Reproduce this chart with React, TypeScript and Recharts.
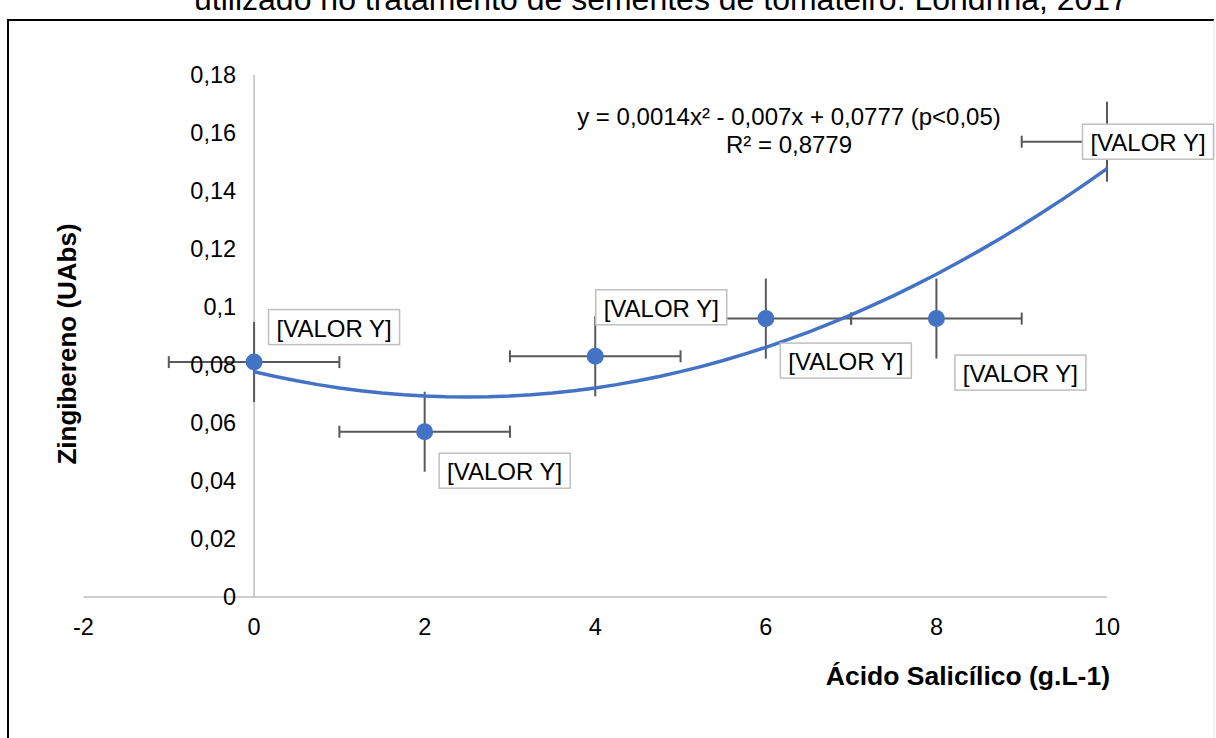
import {
  ComposedChart,
  ErrorBar,
  ReferenceDot,
  ReferenceLine,
  Scatter,
  XAxis,
  YAxis,
} from "recharts";

// doses de ácido salicílico (g.L-1) e médias de zingibereno (UAbs)
const doses = [0, 2, 4, 6, 8, 10];
const zingibereno = [0.081, 0.057, 0.083, 0.096, 0.096, 0.157];
const erroY = [0.0138, 0.0138, 0.0138, 0.0138, 0.0138, 0.0138];
const erroX = [1, 1, 1, 1, 1, 1];
const rotulos = ["[VALOR Y]", "[VALOR Y]", "[VALOR Y]", "[VALOR Y]", "[VALOR Y]", "[VALOR Y]"];

const xTicks = [-2, 0, 2, 4, 6, 8, 10];
const yTicks = [0, 0.02, 0.04, 0.06, 0.08, 0.1, 0.12, 0.14, 0.16, 0.18];

// linha de tendência polinomial: y = c2·x² + c1·x + c0
const coef = { c0: 0.0777, c1: -0.007, c2: 0.0014 };
const passosCurva = [
  0, 0.25, 0.5, 0.75, 1, 1.25, 1.5, 1.75, 2, 2.25, 2.5, 2.75, 3, 3.25, 3.5, 3.75, 4,
  4.25, 4.5, 4.75, 5, 5.25, 5.5, 5.75, 6, 6.25, 6.5, 6.75, 7, 7.25, 7.5, 7.75, 8,
  8.25, 8.5, 8.75, 9, 9.25, 9.5, 9.75, 10,
];

// deslocamento (px) de cada caixa de rótulo em relação ao ponto
const offsetsRotulo: [number, number][] = [
  [80, -35],
  [80, 39],
  [66, -49],
  [80, 42],
  [84, 54],
  [41, 0],
];

const FONT = "'Liberation Sans', Arial, sans-serif";
const AZUL = "#4472C4";
const CINZA_EIXO = "#bfbfbf";
const CINZA_ERRO = "#595959";

const pontos = doses.map((d, i) => ({
  x: d,
  y: zingibereno[i],
  ex: erroX[i],
  ey: erroY[i],
}));

const curva = passosCurva.map((x) => ({
  x,
  y: coef.c2 * x * x + coef.c1 * x + coef.c0,
}));

const fmt = (v: number) => String(v).replace(".", ",");

const Ponto = (p: any) => <circle cx={p.cx} cy={p.cy} r={8.5} fill={AZUL} />;

const caixaRotulo = (i: number) => (p: any) => {
  const [dx, dy] = offsetsRotulo[i];
  const cx = p.cx + dx;
  const cy = p.cy + dy;
  const w = 131;
  const h = 35;
  return (
    <g>
      <rect
        x={cx - w / 2}
        y={cy - h / 2}
        width={w}
        height={h}
        fill="#fff"
        stroke={CINZA_EIXO}
        strokeWidth={1.5}
      />
      <text
        x={cx}
        y={cy + 1}
        textAnchor="middle"
        dominantBaseline="central"
        fontSize={24}
        fontFamily={FONT}
        fill="#000"
      >
        {rotulos[i]}
      </text>
    </g>
  );
};

export default function App() {
  return (
    <div
      style={{
        position: "fixed",
        left: 0,
        top: 0,
        width: 1216,
        height: 738,
        background: "#fff",
        fontFamily: FONT,
      }}
    >
      <svg
        width={1216}
        height={738}
        style={{ position: "absolute", left: 0, top: 0 }}
      >
        <text
          x={661}
          y={10}
          textAnchor="middle"
          fontSize={32}
          fontFamily={FONT}
          fill="#000"
        >
          utilizado no tratamento de sementes de tomateiro. Londrina, 2017
        </text>
        <line x1={7} y1={20} x2={1214} y2={20} stroke="#000" strokeWidth={2} />
        <line x1={8} y1={19} x2={8} y2={738} stroke="#000" strokeWidth={2} />
        <line x1={1214} y1={20} x2={1214} y2={738} stroke="#e6e6e6" strokeWidth={1} />
      </svg>
      <div style={{ position: "absolute", left: 0, top: 0 }}>
        <ComposedChart
          width={1216}
          height={738}
          margin={{ top: 75, right: 109, bottom: 111, left: 83.5 }}
        >
          <XAxis
            type="number"
            dataKey="x"
            domain={[-2, 10]}
            ticks={xTicks}
            interval={0}
            height={30}
            allowDataOverflow
            axisLine={{ stroke: CINZA_EIXO, strokeWidth: 1.5 }}
            tickLine={false}
            tickMargin={15}
            tick={{ fill: "#000", fontSize: 23.5, fontFamily: FONT }}
          />
          <YAxis type="number" dataKey="y" domain={[0, 0.18]} hide />
          <ReferenceLine x={0} stroke={CINZA_EIXO} strokeWidth={1.5} />
          {yTicks.map((t) => (
            <ReferenceDot
              key={t}
              x={0}
              y={t}
              r={0}
              ifOverflow="visible"
              label={{
                value: fmt(t),
                position: "left",
                offset: 18,
                fill: "#000",
                fontSize: 23.5,
                fontFamily: FONT,
              }}
            />
          ))}
          <Scatter
            data={curva}
            line={{ stroke: AZUL, strokeWidth: 3.5 }}
            lineType="joint"
            shape={() => <g />}
            isAnimationActive={false}
          />
          <Scatter data={pontos} shape={Ponto} isAnimationActive={false}>
            <ErrorBar dataKey="ey" direction="y" width={0} stroke={CINZA_ERRO} strokeWidth={2} />
            <ErrorBar dataKey="ex" direction="x" width={6} stroke={CINZA_ERRO} strokeWidth={2} />
          </Scatter>
          {doses.map((d, i) => (
            <ReferenceDot
              key={`rotulo-${d}`}
              x={d}
              y={zingibereno[i]}
              r={0}
              ifOverflow="visible"
              isFront
              zIndex={1500}
              shape={caixaRotulo(i)}
            />
          ))}
        </ComposedChart>
      </div>
      <svg
        width={1216}
        height={738}
        style={{ position: "absolute", left: 0, top: 0, pointerEvents: "none" }}
      >
        <text x={789} y={125} textAnchor="middle" fontSize={24} fontFamily={FONT} fill="#000">
          y = 0,0014x² - 0,007x + 0,0777 (p&lt;0,05)
        </text>
        <text x={789} y={153} textAnchor="middle" fontSize={24} fontFamily={FONT} fill="#000">
          R² = 0,8779
        </text>
        <text
          x={1110}
          y={685}
          textAnchor="end"
          fontSize={26.5}
          fontWeight="bold"
          fontFamily={FONT}
          fill="#000"
        >
          Ácido Salicílico (g.L-1)
        </text>
        <text
          transform="translate(76,344) rotate(-90)"
          textAnchor="middle"
          fontSize={26}
          fontWeight="bold"
          fontFamily={FONT}
          fill="#000"
        >
          Zingibereno (UAbs)
        </text>
      </svg>
    </div>
  );
}
